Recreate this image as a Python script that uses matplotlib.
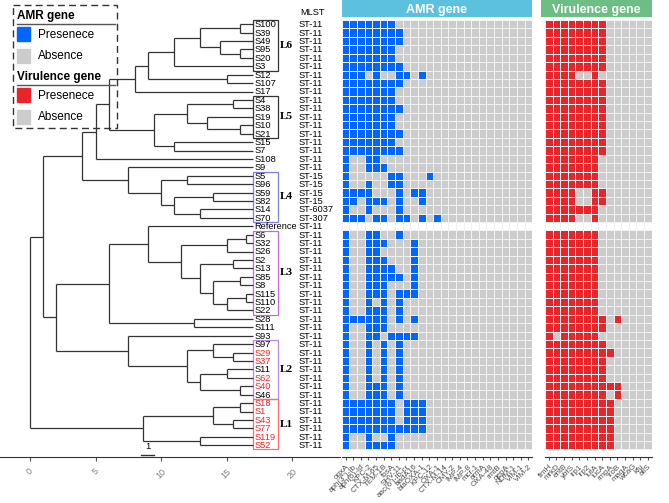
import matplotlib.pyplot as plt
from matplotlib.patches import Rectangle
from matplotlib.lines import Line2D
from matplotlib.colors import ListedColormap
import numpy as np

plt.rcParams['font.family'] = ['Liberation Sans', 'DejaVu Sans']

# ---- data ----
leaves = ['S100', 'S39', 'S49', 'S95', 'S20', 'S3', 'S12', 'S107', 'S17', 'S4',
          'S38', 'S19', 'S10', 'S21', 'S15', 'S7', 'S108', 'S9', 'S5', 'S96',
          'S59', 'S82', 'S14', 'S70', 'Reference', 'S6', 'S32', 'S26', 'S2', 'S13',
          'S85', 'S8', 'S115', 'S110', 'S22', 'S28', 'S111', 'S93', 'S97', 'S29',
          'S37', 'S11', 'S62', 'S40', 'S46', 'S18', 'S1', 'S43', 'S77', 'S119', 'S52']
mlst = ['ST-11'] * 18 + ['ST-15'] * 4 + ['ST-6037', 'ST-307'] + ['ST-11'] * 27
red_leaves = ['S29', 'S37', 'S62', 'S40', 'S18', 'S1', 'S43', 'S77', 'S119', 'S52']

amr_genes = ['oqxA', "aph(3'')-Ib", 'aph(6)-Id', 'KPC-2', 'CTX-M-65', 'TEM-1B',
             'fosA', 'SHV-11', "aac(6')-Ib-cr", 'aadA16', 'blaOXA-1', 'KPC-12',
             'OXA-1', 'CTX-M-14', 'CMY-2', 'IMP-4', 'IMP-8', 'mcr-1', 'armA',
             'OXA-48', 'rmtB', 'qepA', 'NDM-1', 'VIM-1', 'VIM-2']
vir_genes = ['fimH', 'mrkD', 'entB', 'ybtS', 'irp1', 'irp2', 'iutA', 'iucA',
             'rmpA', 'iroB', 'magA', 'wcaG', 'kfu', 'allS']

# present gene columns per row (None = Reference, drawn blank)
amr_hits = [
    [0, 1, 2, 3, 4, 5, 6], [0, 1, 2, 3, 4, 5, 6, 7], [0, 1, 2, 3, 4, 5, 6, 7],
    [0, 1, 2, 3, 4, 5, 6], [0, 1, 2, 3, 4, 5, 6], [0, 1, 2, 3, 4, 5, 6, 7],
    [0, 1, 2, 4, 7, 8, 10], [0, 1, 2, 3, 4, 5, 6, 7], [0, 1, 2, 3, 4, 5, 6],
    [0, 1, 2, 3, 4, 5, 6], [0, 1, 2, 3, 4, 5, 6, 7], [0, 1, 2, 3, 4, 5, 6],
    [0, 1, 2, 3, 4, 5, 6], [0, 1, 2, 3, 4, 5, 6, 7], [0, 1, 2, 3, 4, 5, 6],
    [0, 1, 2, 3, 4, 5, 6, 7], [0, 3, 4], [0, 3, 4, 5],
    [0, 6, 7, 11], [0, 3, 6, 7], [0, 1, 2, 3, 7, 9, 10],
    [0, 1, 3, 4, 5, 7, 10], [0, 3, 7], [0, 1, 2, 4, 5, 7, 8, 10, 12],
    None,
    [0, 3, 4, 7], [0, 3, 4, 5, 9], [0, 3, 4, 9], [0, 3, 4, 5, 9],
    [0, 3, 4, 5, 6, 9], [0, 3, 4, 5, 6, 7, 9], [0, 3, 4, 5, 9],
    [0, 3, 4, 5, 7, 8, 9], [0, 3, 5, 7], [0, 3, 4, 5, 7],
    [0, 1, 2, 3, 4, 5, 7, 9], [0, 3, 4, 5], [0, 3, 4, 6, 7, 8, 9],
    [0, 3, 5, 7], [0, 3, 5, 7], [0, 3, 5, 7], [0, 3, 5, 7], [0, 3, 5, 7],
    [0, 3, 4, 5, 7], [0, 3, 4, 5, 7],
    [0, 1, 2, 3, 4, 5, 6, 8, 9, 10], [0, 1, 2, 3, 4, 5, 6, 8, 9, 10],
    [0, 1, 2, 3, 4, 5, 6, 8, 9, 10], [0, 1, 2, 3, 4, 5, 6, 7, 8, 9, 10],
    [0, 3, 6], [0, 3, 4, 5, 6],
]
vir_hits = (
    [list(range(8))] * 6 + [[0, 1, 2, 3, 6]] + [list(range(8))] * 9
    + [list(range(7))] * 4 + [[0, 1, 2, 3, 6, 7]] * 2 + [list(range(7))]
    + [[0, 1, 2, 3, 6]] + [None] + [list(range(7))] * 10
    + [list(range(8)) + [9]] + [list(range(8))] + [[0, 2, 3, 4, 5, 6]]
    + [list(range(8))] + [list(range(9))] + [list(range(8))] * 3
    + [list(range(10))] + [list(range(8)) + [9]] + [list(range(9))] * 6
)

# tree: (node height, [children]); leaves are names, tips at height 17
tree = (0.0, [
    (1.0, [
        (4.0, [
            (5.0, [
                (6.0, [
                    (8.0, [
                        (9.0, [
                            (11.0, [(13.0, [(16.0, ['S100', 'S39']),
                                            (14.5, ['S49', (16.0, ['S95', 'S20'])])]),
                                    'S3']),
                            (15.0, ['S12', 'S107'])]),
                        'S17']),
                    (9.5, [
                        (12.0, [(15.5, ['S4', 'S38']),
                                (13.5, ['S19', (16.0, ['S10', 'S21'])])]),
                        (11.0, ['S15', 'S7'])])]),
                'S108']),
            (7.5, ['S9',
                   (10.0, [(12.0, ['S5', 'S96']),
                           (11.0, [(14.0, ['S59', 'S82']), (13.0, ['S14', 'S70'])])])])]),
        (2.0, [
            (6.0, [
                (9.0, ['Reference',
                       (11.5, [(15.0, [(16.5, ['S6', 'S32']), 'S26']),
                               (13.0, [(15.5, ['S2', 'S13']),
                                       (14.0, [(16.0, ['S85', 'S8']),
                                               (15.0, [(16.5, ['S115', 'S110']), 'S22'])])])])]),
                (12.5, ['S28', 'S111'])]),
            (7.5, ['S93',
                   (12.0, [(14.0, ['S97', (15.5, ['S29', 'S37'])]),
                           (13.0, [(15.0, ['S11', 'S62']), (16.0, ['S40', 'S46'])])])])])]),
    (8.6, [(14.0, [(16.0, ['S18', 'S1']), (15.5, ['S43', 'S77'])]),
           (13.0, ['S119', 'S52'])]),
])
tip_height = 17.0

clades = [('L6', 'S100', 'S3', '#333333'), ('L5', 'S4', 'S21', '#333333'),
          ('L4', 'S5', 'S70', '#7F7FE6'), ('L3', 'S6', 'S22', '#C46BD8'),
          ('L2', 'S97', 'S46', '#B98BE0'), ('L1', 'S18', 'S52', '#FF6B6B')]

# ---- layout helpers (pixel coordinates of 669x503 figure) ----
W, H = 669, 503
fig = plt.figure(figsize=(W / 100, H / 100), dpi=100)


def px_axes(x0, y0, x1, y1):
    return fig.add_axes([x0 / W, 1 - y1 / H, (x1 - x0) / W, (y1 - y0) / H])


nrow = len(leaves)
y_top, y_bot = 20, 457
row_h = 8.42
ylim = ((y_bot - y_top) / row_h - 0.5, -0.5)
row_of = {name: i for i, name in enumerate(leaves)}
fs = 6.7

# ---- tree ----
ax = px_axes(0, y_top, 340, y_bot)
ax.set_ylim(*ylim)
ax.set_xlim(-30 / 13.1, 310 / 13.1)


def draw(node):
    if isinstance(node, str):
        return row_of[node], tip_height
    h, kids = node
    pos = [draw(k) for k in kids]
    ys = [p[0] for p in pos]
    for yk, xk in pos:
        ax.plot([h, xk], [yk, yk], color='#333333', lw=0.9, solid_capstyle='butt')
    ax.plot([h, h], [min(ys), max(ys)], color='#333333', lw=0.9, solid_capstyle='butt')
    return (min(ys) + max(ys)) / 2, h


draw(tree)

for i, name in enumerate(leaves):
    ax.text(tip_height + 0.15, i + 0.05, name, fontsize=fs, va='center', ha='left',
            color='#FF2020' if name in red_leaves else 'black')
    ax.text(20.5, i + 0.05, mlst[i], fontsize=fs, va='center', ha='left')
ax.text(20.6, -1.45, 'MLST', fontsize=fs, va='center', ha='left')

for lab, first, last, col in clades:
    r0, r1 = row_of[first], row_of[last]
    ax.add_patch(Rectangle((17.05, r0 - 0.5), 1.85, r1 - r0 + 1, fill=False,
                           edgecolor=col, lw=0.9, clip_on=False))
    ax.text(19.1, (r0 + r1) / 2, lab, fontsize=8, fontweight='bold',
            family='Liberation Serif', va='center', ha='left')

# scale bar
ax.plot([8.5, 9.5], [51.2, 51.2], color='#333333', lw=1)
ax.text(9.0, 50.2, '1', fontsize=fs, ha='center', va='center')

for s in ['top', 'right', 'left']:
    ax.spines[s].set_visible(False)
ax.spines['bottom'].set_color('#333333')
ax.set_yticks([])
ax.set_xticks([0, 5, 10, 15, 20])
ax.set_xticklabels(['0', '5', '10', '15', '20'], rotation=45, fontsize=6.5, color='#7F7F7F')
ax.tick_params(axis='x', length=3, color='#555555', pad=4)


# ---- heatmaps ----
def heat(x0, genes, hits, color, title, strip_col, strip_x0, strip_x1):
    n = len(genes)
    cw = 7.62
    hax = px_axes(x0, y_top, x0 + n * cw, y_bot)
    mat = np.zeros((nrow, n))
    mask = np.zeros((nrow, n), dtype=bool)
    for i, h in enumerate(hits):
        if h is None:
            mask[i, :] = True
        else:
            mat[i, h] = 1
    mat = np.ma.array(mat, mask=mask)
    hax.pcolormesh(np.arange(n + 1) - 0.5, np.arange(nrow + 1) - 0.5, mat,
                   cmap=ListedColormap(['#CCCCCC', color]), vmin=0, vmax=1,
                   edgecolors='#F2F2F2', linewidth=0.5)
    hax.set_xlim(-0.5, n - 0.5)
    hax.set_ylim(*ylim)
    for s in ['top', 'right', 'left']:
        hax.spines[s].set_visible(False)
    hax.spines['bottom'].set_color('#333333')
    hax.set_yticks([])
    hax.set_xticks(range(n))
    hax.set_xticklabels(genes, rotation=45, ha='right', rotation_mode='anchor',
                        fontsize=5.8, color='#4D4D4D')
    hax.tick_params(axis='x', length=2.5, color='#555555', pad=2)
    sax = px_axes(strip_x0, 0, strip_x1, 17.3)
    sax.set_axis_off()
    sax.add_patch(Rectangle((0, 0), 1, 1, transform=sax.transAxes, color=strip_col))
    sax.text(0.5, 0.45, title, transform=sax.transAxes, color='white',
             fontsize=9, fontweight='bold', ha='center', va='center')


heat(341.7, amr_genes, amr_hits, '#0066FF', 'AMR gene', '#5CC1DF', 341.7, 532)
heat(545, vir_genes, vir_hits, '#E8252B', 'Virulence gene', '#6CBE84', 541, 652)

# ---- legend ----
lax = px_axes(0, 0, W, H)
lax.set_xlim(0, W)
lax.set_ylim(H, 0)
lax.set_axis_off()
lax.patch.set_alpha(0)
lax.add_patch(Rectangle((12.5, 5), 104.5, 123, fill=False, edgecolor='#333333',
                        lw=1, linestyle=(0, (5, 3))))
groups = [('AMR gene', 16, '#0066FF'), ('Virulence gene', 77, '#E8252B')]
for title, y0, col in groups:
    lax.text(17, y0, title, fontsize=8.5, fontweight='bold', va='center', ha='left')
    lax.add_line(Line2D([17, 115], [y0 + 8, y0 + 8], color='#555555', lw=1))
    lax.add_patch(Rectangle((17, y0 + 11), 13, 14, color=col))
    lax.text(38, y0 + 18.5, 'Presenece', fontsize=8.5, va='center', ha='left')
    lax.add_patch(Rectangle((17, y0 + 33), 13, 14, color='#CCCCCC'))
    lax.text(38, y0 + 40, 'Absence', fontsize=8.5, va='center', ha='left')

fig.savefig('out.png', dpi=100)
